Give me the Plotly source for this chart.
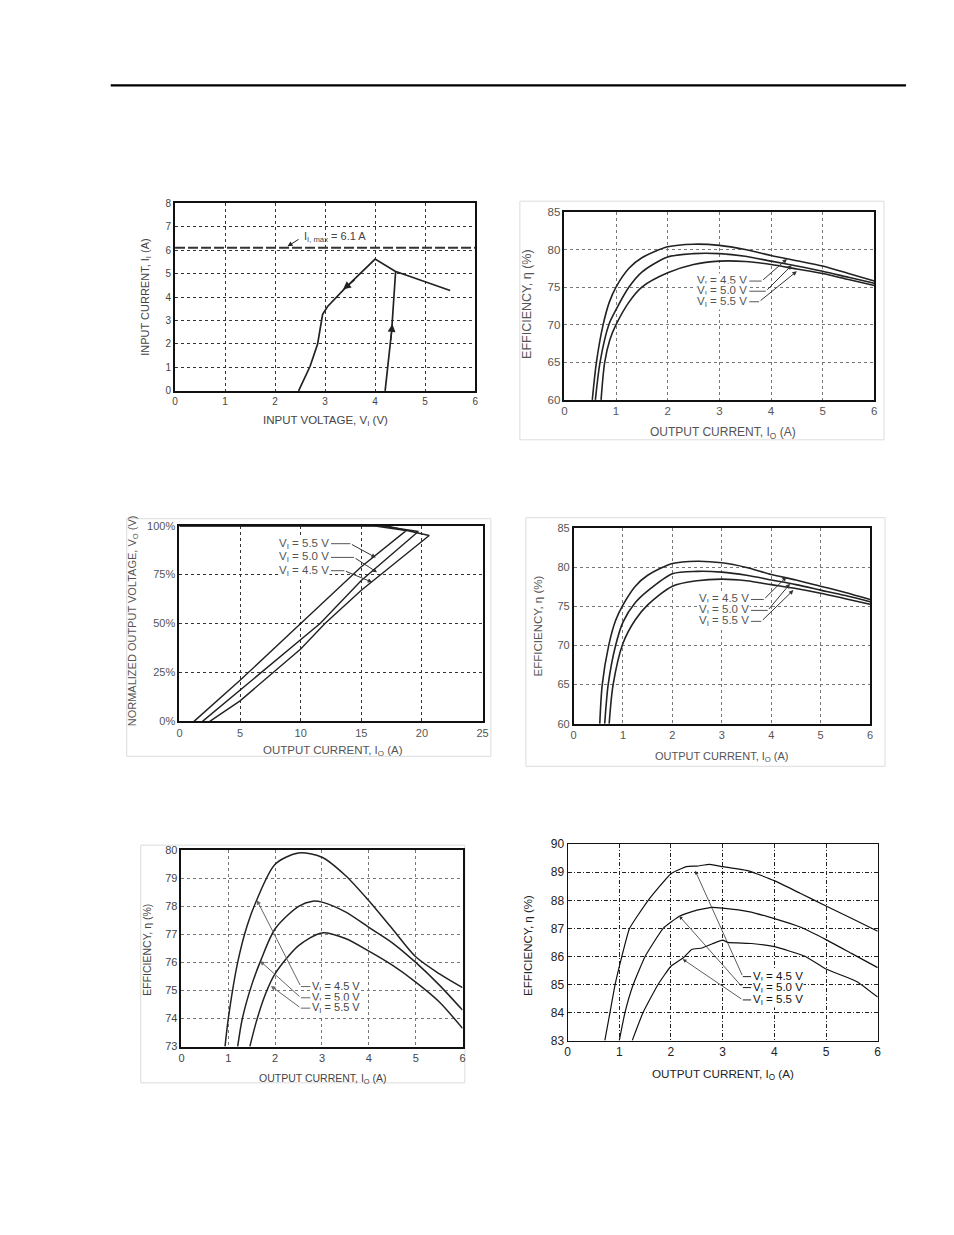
import plotly.graph_objects as go

PAGE_W, PAGE_H = 954, 1235
OFF = 8                      # default body margin of the written html page
FIG_W, FIG_H = 936, 1215     # keeps the page free of scrollbars
# small empirical correction between intended page pixels and the photographed picture
CX, CY, CS = 2.4, 5.6, 0.99
FONT = "Liberation Sans, Arial, sans-serif"

# ---------------- data ----------------
# Panel 1 : input current vs input voltage
p1_vin_down = [2.47, 2.7, 2.85, 2.95, 3.05, 3.41, 4.0, 4.4, 5.0, 5.5]
p1_iin_down = [0.0, 1.05, 2.0, 3.26, 3.6, 4.4, 5.62, 5.1, 4.65, 4.28]
p1_vin_up = [4.2, 4.33, 4.41]
p1_iin_up = [0.0, 2.55, 5.1]
p1_imax = 6.1
p1_xticks = [0, 1, 2, 3, 4, 5, 6]
p1_yticks = [0, 1, 2, 3, 4, 5, 6, 7, 8]

# Panel 2 : efficiency vs output current
p2_io_45 = [0.54, 0.62, 0.75, 0.87, 1.0, 1.25, 1.5, 2.0, 2.5, 3.0, 3.5, 4.0, 4.5, 5.0, 5.5, 6.0]
p2_eff_45 = [60, 65, 70, 73, 75, 77.5, 78.9, 80.35, 80.7, 80.55, 80.0, 79.2, 78.5, 77.8, 76.8, 75.8]
p2_io_50 = [0.6, 0.69, 0.86, 1.0, 1.25, 1.5, 2.0, 2.5, 3.0, 3.5, 4.0, 4.5, 5.0, 5.5, 6.0]
p2_eff_50 = [60, 65, 70, 72.0, 75, 77.0, 79.0, 79.45, 79.45, 79.1, 78.45, 77.8, 77.1, 76.3, 75.5]
p2_io_55 = [0.71, 0.78, 0.88, 1.0, 1.25, 1.5, 2.0, 2.5, 3.0, 3.5, 4.0, 4.5, 5.0, 5.5, 6.0]
p2_eff_55 = [60, 65, 68, 70, 73.0, 75, 76.9, 78.0, 78.45, 78.4, 78.0, 77.4, 76.8, 76.0, 75.2]

# Panel 3 : normalized output voltage vs output current (fold-back)
p3_io_55 = [0, 16.0, 18.7, 15.0, 10.0, 5.0, 1.2]
p3_vo_55 = [100, 100, 97.5, 79, 50, 21, 0]
p3_io_50 = [0, 16.5, 19.7, 15.0, 11.6, 5.0, 1.9]
p3_vo_50 = [100, 100, 97, 72, 50, 16, 0]
p3_io_45 = [0, 17.0, 20.6, 15.0, 12.0, 10.0, 5.0, 2.5]
p3_vo_45 = [100, 100, 95, 67, 50, 37, 10.5, 0]
p3_xticks = [0, 5, 10, 15, 20, 25]
p3_yticks = [0, 25, 50, 75, 100]
p3_yticklabels = ["0%", "25%", "50%", "75%", "100%"]

# Panel 4 : efficiency vs output current
p4_io_45 = [0.53, 0.58, 0.71, 0.85, 1.0, 1.25, 1.5, 2.0, 2.5, 3.0, 3.5, 4.0, 4.5, 5.0, 5.5, 6.0]
p4_eff_45 = [60, 65, 70, 73.2, 75.2, 77.6, 79.0, 80.5, 80.8, 80.6, 80.0, 79.1, 78.4, 77.6, 76.8, 75.9]
p4_io_50 = [0.63, 0.7, 0.85, 1.0, 1.25, 1.5, 2.0, 2.5, 3.0, 3.5, 4.0, 4.5, 5.0, 5.5, 6.0]
p4_eff_50 = [60, 65, 70, 73.0, 75.5, 77.0, 79.2, 79.5, 79.4, 79.0, 78.4, 77.8, 77.1, 76.4, 75.6]
p4_io_55 = [0.72, 0.8, 1.0, 1.25, 1.5, 2.0, 2.5, 3.0, 3.5, 4.0, 4.5, 5.0, 5.5, 6.0]
p4_eff_55 = [60, 65, 70.3, 73.3, 75.2, 77.6, 78.3, 78.5, 78.3, 77.8, 77.3, 76.7, 76.0, 75.3]

# Panel 5 : efficiency vs output current
p5_io_45 = [0.93, 1.0, 1.2, 1.4, 1.6, 2.0, 2.5, 3.0, 3.5, 4.0, 4.5, 5.0, 5.5, 6.0]
p5_eff_45 = [73, 74.0, 76.0, 77.3, 78.2, 79.5, 79.9, 79.75, 79.1, 78.2, 77.2, 76.2, 75.6, 75.1]
p5_io_50 = [1.2, 1.3, 1.5, 1.7, 2.0, 2.5, 2.8, 3.0, 3.5, 4.0, 4.5, 5.0, 5.5, 6.0]
p5_eff_50 = [73, 74.0, 75.2, 76.1, 77.2, 78.0, 78.18, 78.15, 77.8, 77.25, 76.7, 76.0, 75.2, 74.3]
p5_io_55 = [1.46, 1.6, 1.8, 2.0, 2.5, 3.0, 3.5, 4.0, 4.5, 5.0, 5.5, 6.0]
p5_eff_55 = [73, 73.9, 74.9, 75.6, 76.6, 77.05, 76.85, 76.4, 75.9, 75.3, 74.6, 73.65]

# Panel 6 : efficiency vs output current
p6_io_45 = [0.72, 0.82, 0.92, 1.05, 1.2, 1.56, 2.0, 2.3, 2.5, 2.75, 3.0, 3.5, 4.0, 4.5, 5.0, 5.5, 6.0]
p6_eff_45 = [83, 84, 85, 86, 87, 88, 88.95, 89.2, 89.22, 89.28, 89.2, 89.05, 88.7, 88.25, 87.8, 87.35, 86.9]
p6_io_50 = [1.0, 1.11, 1.27, 1.5, 1.85, 2.17, 2.5, 2.8, 3.0, 3.5, 4.0, 4.5, 5.0, 5.5, 6.0]
p6_eff_50 = [83, 84, 85, 86, 87, 87.44, 87.65, 87.75, 87.72, 87.6, 87.35, 87.05, 86.6, 86.1, 85.6]
p6_io_55 = [1.25, 1.46, 1.75, 2.0, 2.24, 2.4, 2.6, 2.8, 3.0, 3.1, 3.56, 4.0, 4.6, 5.0, 5.3, 5.6, 6.0]
p6_eff_55 = [83, 84, 85, 85.65, 85.95, 86.25, 86.3, 86.45, 86.58, 86.5, 86.46, 86.35, 86.0, 85.55, 85.33, 85.1, 84.55]

vi_labels = ["V<sub>I</sub> = 4.5 V", "V<sub>I</sub> = 5.0 V", "V<sub>I</sub> = 5.5 V"]

# ---------------- layout helpers ----------------
def fx(p):
    return ((p - CX) / CS - OFF) / FIG_W

def fy(p):
    return 1 - ((p - CY) / CS - OFF) / FIG_H

fig = go.Figure()
layout = dict(
    width=FIG_W, height=FIG_H, margin=dict(l=0, r=0, t=0, b=0),
    paper_bgcolor="white", plot_bgcolor="white", showlegend=False,
    font=dict(family=FONT, size=11, color="#444"),
)
annotations = []
shapes = []

def axname(k):
    return ("x", "y") if k == 1 else ("x%d" % k, "y%d" % k)

def setup_axes(k, box, xr, yr, xticks, yticks, ytext=None, grid_color="#555",
               griddash="dot", line_w=1.5, tick_color="#555", tick_size=11):
    l, r, t, b = box
    xa = "xaxis" if k == 1 else "xaxis%d" % k
    ya = "yaxis" if k == 1 else "yaxis%d" % k
    xn, yn = axname(k)
    common = dict(showgrid=True, gridcolor=grid_color, gridwidth=1, griddash=griddash,
                  zeroline=False, showline=True, linecolor="#111", linewidth=line_w,
                  mirror=True, ticks="", tickfont=dict(size=tick_size, color=tick_color,
                  family=FONT), fixedrange=True)
    layout[xa] = dict(common, domain=[fx(l), fx(r)], range=xr, tickvals=xticks,
                      anchor=yn)
    ydict = dict(common, domain=[fy(b), fy(t)], range=yr, tickvals=yticks, anchor=xn)
    if ytext is not None:
        ydict["ticktext"] = ytext
    layout[ya] = ydict

def add_line(k, x, y, width=1.6, color="#222", shape="linear", smoothing=1.0, dash=None):
    xn, yn = axname(k)
    ln = dict(color=color, width=width, shape=shape)
    if shape == "spline":
        ln["smoothing"] = smoothing
    if dash:
        ln["dash"] = dash
    fig.add_trace(go.Scatter(x=x, y=y, mode="lines", line=ln, xaxis=xn, yaxis=yn,
                             hoverinfo="skip"))

def titles(xpos, ypos, xtext, ytext, size=11, ysize=None, color="#444"):
    ysize = ysize or size
    annotations.append(dict(xref="paper", yref="paper", x=fx(xpos[0]), y=fy(xpos[1]),
                            text=xtext, showarrow=False, xanchor="center", yanchor="middle",
                            font=dict(size=size, color=color, family=FONT)))
    annotations.append(dict(xref="paper", yref="paper", x=fx(ypos[0]), y=fy(ypos[1]),
                            text=ytext, showarrow=False, textangle=-90, xanchor="center",
                            yanchor="middle", font=dict(size=ysize, color=color, family=FONT)))

def arrow(k, tail, tip, color="#222", width=1, size=1.0, head=2):
    xn, yn = axname(k)
    annotations.append(dict(xref=xn, yref=yn, axref=xn, ayref=yn, x=tip[0], y=tip[1],
                            ax=tail[0], ay=tail[1], text="", showarrow=True,
                            arrowhead=head, arrowsize=size, arrowwidth=width,
                            arrowcolor=color))

def seg(k, p0, p1, color="#444", width=1):
    xn, yn = axname(k)
    shapes.append(dict(type="line", xref=xn, yref=yn, x0=p0[0], y0=p0[1], x1=p1[0],
                       y1=p1[1], line=dict(color=color, width=width)))

def label(k, x, y, text, anchor, size=11, color="#444", bg="white"):
    xn, yn = axname(k)
    annotations.append(dict(xref=xn, yref=yn, x=x, y=y, text=text, showarrow=False,
                            xanchor=anchor, yanchor="middle", bgcolor=bg, borderpad=0,
                            font=dict(size=size, color=color, family=FONT)))

def box(l, t, r, b, color="#dcdcdc"):
    shapes.append(dict(type="rect", xref="paper", yref="paper", x0=fx(l), x1=fx(r),
                       y0=fy(b), y1=fy(t), line=dict(color=color, width=1),
                       fillcolor="rgba(0,0,0,0)", layer="below"))

# page rule
shapes.append(dict(type="line", xref="paper", yref="paper", x0=fx(110), x1=fx(905),
                   y0=fy(84), y1=fy(84), line=dict(color="black", width=2.2)))

# picture frames
box(519, 200, 883, 439)
box(126, 518, 490, 756)
box(525, 517, 884, 766)
box(140, 845, 464, 1083)

eff_ticks = [60, 65, 70, 75, 80, 85]
cur_ticks = [0, 1, 2, 3, 4, 5, 6]

# ---------------- panel 1 ----------------
setup_axes(1, (174.3, 474.3, 202, 390), [0, 6], [0, 8], p1_xticks, p1_yticks,
           grid_color="#333", line_w=2, tick_color="#444", tick_size=10)
add_line(1, [0, 6], [p1_imax, p1_imax], width=1.8, color="#333", dash="10px,3px")
add_line(1, p1_vin_down, p1_iin_down, width=1.7)
add_line(1, p1_vin_up, p1_iin_up, width=1.7)
arrow(1, (3.62, 4.78), (3.36, 4.33), size=1.3, width=1.2)
arrow(1, (4.31, 2.1), (4.345, 2.85), size=1.3, width=1.2)
arrow(1, (2.5, 6.5), (2.25, 6.16), size=1.0, width=1)
label(1, 2.56, 6.55, "I<sub>I, max</sub> = 6.1 A", "left", size=11, bg=None)
titles((325, 420), (145, 296), "INPUT VOLTAGE, V<sub>I</sub> (V)",
       "INPUT CURRENT, I<sub>I</sub> (A)", size=11.5, ysize=11)

# ---------------- panel 2 ----------------
setup_axes(2, (563.5, 873.3, 210.7, 399), [0, 6], [60, 85], cur_ticks, eff_ticks,
           grid_color="#777", line_w=1.5, tick_color="#555", tick_size=11.5)
add_line(2, p2_io_45, p2_eff_45, shape="spline", smoothing=0.8)
add_line(2, p2_io_50, p2_eff_50, shape="spline", smoothing=0.8)
add_line(2, p2_io_55, p2_eff_55, shape="spline", smoothing=0.8)
for txt, ly, bx, tip in zip(vi_labels, [75.8, 74.45, 73.05], [3.82, 3.9, 3.77],
                            [(4.31, 78.75), (4.4, 77.9), (4.5, 77.1)]):
    label(2, 3.56, ly, txt, "right", color="#555", size=11.5)
    seg(2, (3.58, ly), (bx, ly), color="#555")
    arrow(2, (bx, ly), tip, color="#333", size=0.9)
titles((722, 432), (526, 303), "OUTPUT CURRENT, I<sub>O</sub> (A)", "EFFICIENCY, η (%)",
       size=12, ysize=12.5, color="#555")

# ---------------- panel 3 ----------------
setup_axes(3, (178.7, 481.7, 525, 721), [0, 25], [0, 100], p3_xticks, p3_yticks,
           ytext=p3_yticklabels, grid_color="#333", line_w=2, tick_color="#555")
add_line(3, p3_io_55, p3_vo_55, width=1.4)
add_line(3, p3_io_50, p3_vo_50, width=1.4)
add_line(3, p3_io_45, p3_vo_45, width=1.4)
for txt, ly, bx, tip in zip([vi_labels[2], vi_labels[1], vi_labels[0]],
                            [90.8, 83.8, 77.0], [14.1, 14.4, 13.6],
                            [(16.2, 83.7), (16.3, 76.2), (15.9, 71.1)]):
    label(3, 12.4, ly, txt, "right", color="#555", size=11.5)
    seg(3, (12.5, ly), (bx, ly), color="#555")
    arrow(3, (bx, ly), tip, color="#333", size=0.9)
titles((332, 751), (132, 620), "OUTPUT CURRENT, I<sub>O</sub> (A)",
       "NORMALIZED OUTPUT VOLTAGE, V<sub>O</sub> (V)", size=11.5, ysize=11, color="#555")

# ---------------- panel 4 ----------------
setup_axes(4, (572.7, 869, 527.7, 723.3), [0, 6], [60, 85], cur_ticks, eff_ticks,
           grid_color="#777", line_w=1.5, tick_color="#555")
add_line(4, p4_io_45, p4_eff_45, shape="spline", smoothing=0.8)
add_line(4, p4_io_50, p4_eff_50, shape="spline", smoothing=0.8)
add_line(4, p4_io_55, p4_eff_55, shape="spline", smoothing=0.8)
for txt, ly, bx, tip in zip(vi_labels, [75.9, 74.5, 73.1], [3.85, 3.93, 3.8],
                            [(4.31, 78.8), (4.38, 77.9), (4.45, 77.1)]):
    label(4, 3.57, ly, txt, "right", color="#555", size=11.5)
    seg(4, (3.59, ly), (bx, ly), color="#555")
    arrow(4, (bx, ly), tip, color="#333", size=0.9)
titles((721, 757), (537, 625), "OUTPUT CURRENT, I<sub>O</sub> (A)", "EFFICIENCY, η (%)",
       size=11, ysize=11.5, color="#555")

# ---------------- panel 5 ----------------
setup_axes(5, (180.7, 461.7, 850, 1046.7), [0, 6], [73, 80], cur_ticks,
           [73, 74, 75, 76, 77, 78, 79, 80], grid_color="#777", line_w=1.5,
           tick_color="#444")
add_line(5, p5_io_45, p5_eff_45, shape="spline", smoothing=0.8, width=1.5)
add_line(5, p5_io_50, p5_eff_50, shape="spline", smoothing=0.8, width=1.5)
add_line(5, p5_io_55, p5_eff_55, shape="spline", smoothing=0.8, width=1.5)
for txt, ly, tip in zip(vi_labels, [75.14, 74.74, 74.37],
                        [(1.61, 78.22), (1.68, 76.05), (1.91, 75.16)]):
    label(5, 2.77, ly, txt, "left", color="#444", size=11)
    seg(5, (2.55, ly), (2.75, ly), color="#666")
    arrow(5, (2.55, ly), tip, color="#666", size=0.9)
titles((322, 1079), (146, 950), "OUTPUT CURRENT, I<sub>O</sub> (A)", "EFFICIENCY, η (%)",
       size=10.5, ysize=10.5, color="#444")

# ---------------- panel 6 ----------------
setup_axes(6, (566.7, 876.7, 844, 1040.7), [0, 6], [83, 90], cur_ticks,
           [83, 84, 85, 86, 87, 88, 89, 90], grid_color="#222", griddash="4px,2px,1px,2px",
           line_w=1, tick_color="#222", tick_size=12)
add_line(6, p6_io_45, p6_eff_45, shape="spline", smoothing=0.4, width=1.2, color="#111")
add_line(6, p6_io_50, p6_eff_50, shape="spline", smoothing=0.4, width=1.2, color="#111")
add_line(6, p6_io_55, p6_eff_55, shape="spline", smoothing=0.4, width=1.2, color="#111")
for txt, ly, tip in zip(vi_labels, [85.28, 84.89, 84.45],
                        [(2.47, 89.05), (2.16, 87.44), (2.23, 85.9)]):
    label(6, 3.57, ly, txt, "left", color="#111", size=11.5)
    seg(6, (3.39, ly), (3.55, ly), color="#222")
    arrow(6, (3.39, ly), tip, color="#333", size=0.9, width=0.8)
titles((722, 1075), (527, 945), "OUTPUT CURRENT, I<sub>O</sub> (A)", "EFFICIENCY, η (%)",
       size=11.7, ysize=11.5, color="#222")

layout["annotations"] = annotations
layout["shapes"] = shapes
fig.update_layout(**layout)
fig.write_html("out.html")
